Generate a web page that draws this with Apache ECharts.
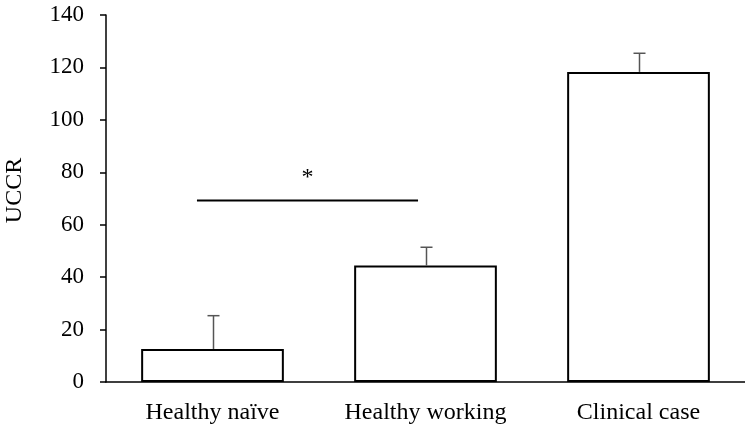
<!DOCTYPE html>
<html><head><meta charset="utf-8">
<script src="https://cdn.jsdelivr.net/npm/echarts@6/dist/echarts.min.js"></script>
<style>html,body{margin:0;padding:0;background:#fff}#c{width:745px;height:429px}</style>
</head><body><div id="c"></div>
<script>
const categories = ['Healthy naïve', 'Healthy working', 'Clinical case'];
const means = [12.6, 44.4, 118.3];
const errorTops = [25.3, 51.4, 125.4];
const yTicks = [0, 20, 40, 60, 80, 100, 120, 140];
const sigLevel = 69.5;
const sigFrom = [0, -0.073]; // [category index, band-fraction offset]
const sigTo = [1, -0.035];
const sigLabel = '*';

const chart = echarts.init(document.getElementById('c'));
const font = 'Liberation Serif';
chart.setOption({
  animation: false,
  grid: {left: 106, right: 0, top: 15, bottom: 47, containLabel: false, outerBoundsMode: 'none'},
  xAxis: {
    type: 'category', data: categories,
    axisLine: {lineStyle: {color: '#000', width: 1.5}},
    axisTick: {show: false},
    axisLabel: {color: '#000', fontFamily: font, fontSize: 24, margin: 19}
  },
  yAxis: {
    type: 'value', min: yTicks[0], max: yTicks[yTicks.length - 1], interval: 20,
    name: 'UCCR', nameLocation: 'middle', nameGap: 79, nameRotate: 90,
    nameTextStyle: {color: '#000', fontFamily: font, fontSize: 24, padding: [0, 0, 0, 16]},
    axisLine: {show: true, lineStyle: {color: '#000', width: 1.5}},
    axisTick: {show: true, inside: false, length: 6, lineStyle: {color: '#000', width: 1.5}},
    axisLabel: {color: '#000', fontFamily: font, fontSize: 23, margin: 22},
    splitLine: {show: false}
  },
  series: [
    {
      type: 'bar', data: means, barWidth: '67%',
      itemStyle: {color: '#fff', borderColor: '#000', borderWidth: 2},
      z: 2
    },
    {
      type: 'custom', z: 3,
      data: categories.map((c, i) => [i, means[i], errorTops[i]]),
      renderItem: function (params, api) {
        const base = api.coord([api.value(0), api.value(1)]);
        const top = api.coord([api.value(0), api.value(2)]);
        const x = Math.round(base[0]) + 0.5;
        return {
          type: 'group', children: [
            {type: 'line', shape: {x1: x, y1: base[1], x2: x, y2: top[1]}, style: {stroke: '#555', lineWidth: 1.5}},
            {type: 'line', shape: {x1: x - 6, y1: top[1], x2: x + 6, y2: top[1]}, style: {stroke: '#555', lineWidth: 1.5}}
          ]
        };
      }
    },
    {
      type: 'custom', z: 4,
      data: [[sigFrom[0], sigFrom[1], sigTo[0], sigTo[1], sigLevel]],
      renderItem: function (params, api) {
        const bw = api.size([1, 0])[0];
        const p1 = api.coord([api.value(0), api.value(4)]);
        const p2 = api.coord([api.value(2), api.value(4)]);
        const x1 = p1[0] + api.value(1) * bw;
        const x2 = p2[0] + api.value(3) * bw;
        const y = Math.round(p1[1]) + 0.5;
        return {
          type: 'group', children: [
            {type: 'line', shape: {x1: x1, y1: y, x2: x2, y2: y}, style: {stroke: '#000', lineWidth: 2}},
            {type: 'text', x: (x1 + x2) / 2, y: y - 23, style: {text: sigLabel, fill: '#000', font: '24px "Liberation Serif"', align: 'center', verticalAlign: 'middle'}}
          ]
        };
      }
    }
  ]
});
</script></body></html>
